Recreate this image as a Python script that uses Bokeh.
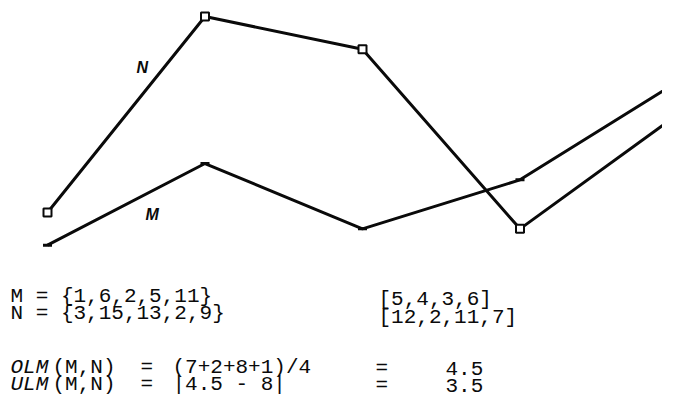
from bokeh.plotting import figure
from bokeh.models import Range1d
from bokeh.core.properties import value
from bokeh.embed import file_html
from bokeh.resources import INLINE

# ---- data ----
positions = [0, 1, 2, 3, 4]
M_vals = [1, 6, 2, 5, 11]
N_vals = [3, 15, 13, 2, 9]
M_steps = [5, 4, 3, 6]
N_steps = [12, 2, 11, 7]
olm_terms = [7, 2, 8, 1]
olm_value = "4.5"
ulm_expr = "|4.5 - 8|"
ulm_value = "3.5"

W, H = 662, 400
# pixel geometry (figure coords)
X0_PX, STEP_PX = 47.0, 157.5
Y_INT, Y_SLOPE = 261.0, 16.33  # y_px = Y_INT - Y_SLOPE * v

xs = -X0_PX / STEP_PX
xe = xs + W / STEP_PX
ys_top = Y_INT / Y_SLOPE
ys_bot = (Y_INT - H) / Y_SLOPE

p = figure(width=W, height=H, output_backend="svg", toolbar_location=None,
           x_range=Range1d(xs, xe), y_range=Range1d(ys_bot, ys_top),
           min_border=0, background_fill_color="white", border_fill_color="white")
p.axis.visible = False
p.grid.visible = False
p.outline_line_color = None


def dx(xr):
    return xs + xr / W * (xe - xs)


def dy(yr):
    return ys_top - yr / H * (ys_top - ys_bot)


ink = "#0a0a0a"
p.line(positions, N_vals, line_color=ink, line_width=3)
p.line(positions, M_vals, line_color=ink, line_width=3)
p.scatter(positions, N_vals, marker="square", size=8, fill_color="white",
          line_color=ink, line_width=2)
p.scatter(positions, M_vals, marker="dash", size=9, line_color=ink, line_width=3)

# series labels
p.text(x=[dx(136)], y=[dy(67)], text=["N"], text_font=value("Liberation Sans"),
       text_font_style="bold italic", text_font_size="16px", text_color=ink,
       text_baseline="middle", text_align="left")
p.text(x=[dx(145)], y=[dy(214)], text=["M"], text_font=value("Liberation Sans"),
       text_font_style="bold italic", text_font_size="16px", text_color=ink,
       text_baseline="middle", text_align="left")

FS = "21px"
mono = value("Liberation Mono")


def put(xr, yr, s, style="normal"):
    p.text(x=[dx(xr)], y=[dy(yr)], text=[s], text_font=mono, text_font_style=style,
           text_font_size=FS, text_color=ink, text_baseline="middle", text_align="left")


m_txt = "{" + ",".join(str(v) for v in M_vals) + "}"
n_txt = "{" + ",".join(str(v) for v in N_vals) + "}"
ms_txt = "[" + ",".join(str(v) for v in M_steps) + "]"
ns_txt = "[" + ",".join(str(v) for v in N_steps) + "]"
olm_txt = "(" + "+".join(str(v) for v in olm_terms) + ")/" + str(len(olm_terms))

put(10, 296, "M = " + m_txt)
put(10, 313, "N = " + n_txt)
put(378, 299, ms_txt)
put(378, 317, ns_txt)

put(10, 367, "OLM", "italic")
put(52, 367, "(M,N)")
put(140, 367, "=")
put(172, 367, olm_txt)
put(375, 368, "=")
put(445, 368, olm_value)

put(10, 384, "ULM", "italic")
put(52, 384, "(M,N)")
put(140, 384, "=")
put(172, 384, ulm_expr)
put(375, 385, "=")
put(445, 385, ulm_value)

open("out.html", "w").write(file_html(p, INLINE))
